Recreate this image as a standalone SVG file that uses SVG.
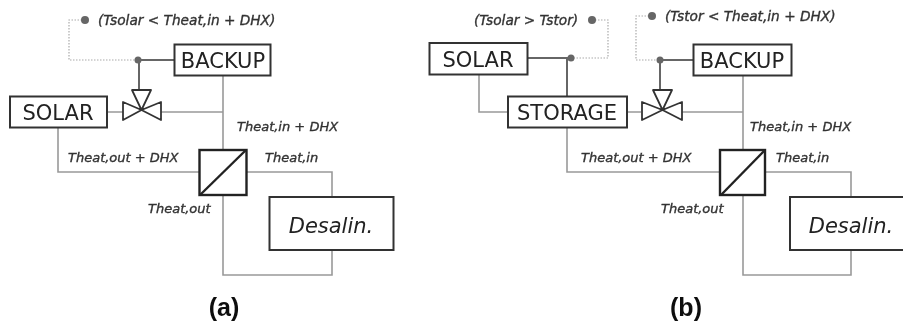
<svg xmlns="http://www.w3.org/2000/svg" width="903" height="323" viewBox="0 0 903 323">
<defs>
<style>
.p{fill:none;stroke:#999;stroke-width:1.6}
.d{fill:none;stroke:#aaa;stroke-width:1.2;stroke-dasharray:1.5 1.5}
.s{fill:none;stroke:#666;stroke-width:2}
.b{fill:#fff;stroke:#333;stroke-width:2}
.h{fill:#fff;stroke:#222;stroke-width:2.4}
.v{fill:#fff;stroke:#333;stroke-width:1.8;stroke-linejoin:round}
.dot{fill:#666}
text{font-family:"DejaVu Sans",sans-serif;fill:#222}
.n{font-size:21px;text-anchor:middle}
.i{font-size:21px;text-anchor:middle;font-style:italic}
.l{font-size:13px;font-style:italic;fill:#333;stroke:#333;stroke-width:.35}
.c{font-size:13.7px;font-style:italic;fill:#333;stroke:#333;stroke-width:.35}
.cap{font-family:"Liberation Sans",Arial,sans-serif;font-size:25px;font-weight:bold;fill:#111;text-anchor:middle}
</style>
<filter id="soft" x="-2%" y="-2%" width="104%" height="104%"><feGaussianBlur stdDeviation="0.35"/></filter>
</defs>
<g filter="url(#soft)">
<g id="connectors">
<path class="d" d="M85 20H69V60H138"/>
<path class="s" d="M138 60H174M139 60V90"/>
<path class="p" d="M223 76V150M107 112H123M161 112H223M58 128V172H199M247 172H332V197M223 195V275H332V250"/>
<path class="d" d="M592 20H608V58H571M652 16H636V60H660"/>
<path class="s" d="M527 58H571M567 58V96M660 60H693M660 60V90"/>
<path class="p" d="M479 75V112H508M627 112H641M682 112H743M743 76V150M567 128V172H720M765 172H851V197M743 195V275H851V250"/>
</g>
<g id="a-signal"><circle class="dot" cx="85" cy="20" r="4"/><circle class="dot" cx="138" cy="60" r="3.500"/><text class="c" x="98" y="25">(Tsolar &lt; Theat,in + DHX)</text></g>
<g id="a-backup"><rect class="b" x="174.500" y="44.500" width="96" height="31"/><text class="n" x="223" y="68">BACKUP</text></g>
<g id="a-solar"><rect class="b" x="10" y="96.500" width="97" height="31"/><text class="n" x="58" y="120">SOLAR</text></g>
<g id="a-valve"><path class="v" d="M132 90H151L141.500 110ZM123 102V120L141.500 110ZM161 102V120L141.500 110Z"/></g>
<g id="a-hx"><rect class="h" x="199.500" y="150" width="47" height="45"/><path class="h" d="M200 195L246 150"/></g>
<g id="a-desalin"><rect class="b" x="269.500" y="197" width="124" height="53"/><text class="i" x="331" y="233">Desalin.</text></g>
<g id="a-labels">
<text class="l" x="237" y="131">Theat,in + DHX</text>
<text class="l" x="68" y="162">Theat,out + DHX</text>
<text class="l" x="265" y="162">Theat,in</text>
<text class="l" x="148" y="213">Theat,out</text>
</g>
<text class="cap" x="224" y="316">(a)</text>
<g id="b-signal-solar"><circle class="dot" cx="592" cy="20" r="4"/><circle class="dot" cx="571" cy="58" r="3.500"/><text class="c" x="474" y="25">(Tsolar &gt; Tstor)</text></g>
<g id="b-signal-backup"><circle class="dot" cx="652" cy="16" r="4"/><circle class="dot" cx="660" cy="60" r="3.500"/><text class="c" x="665" y="21">(Tstor &lt; Theat,in + DHX)</text></g>
<g id="b-solar"><rect class="b" x="429.500" y="43" width="98" height="31.500"/><text class="n" x="478" y="67">SOLAR</text></g>
<g id="b-storage"><rect class="b" x="508" y="96.500" width="119" height="31"/><text class="n" x="567" y="120">STORAGE</text></g>
<g id="b-backup"><rect class="b" x="693.500" y="44.500" width="98" height="31"/><text class="n" x="742" y="68">BACKUP</text></g>
<g id="b-valve"><path class="v" d="M653 90H672L662.500 110ZM642 102V120L662.500 110ZM682 102V120L662.500 110Z"/></g>
<g id="b-hx"><rect class="h" x="720" y="150" width="45" height="45"/><path class="h" d="M721 195L765 150"/></g>
<g id="b-desalin"><rect class="b" x="790" y="197" width="120" height="53"/><text class="i" x="851" y="233">Desalin.</text></g>
<g id="b-labels">
<text class="l" x="750" y="131">Theat,in + DHX</text>
<text class="l" x="581" y="162">Theat,out + DHX</text>
<text class="l" x="776" y="162">Theat,in</text>
<text class="l" x="661" y="213">Theat,out</text>
</g>
<text class="cap" x="686" y="316">(b)</text>
</g>
</svg>
